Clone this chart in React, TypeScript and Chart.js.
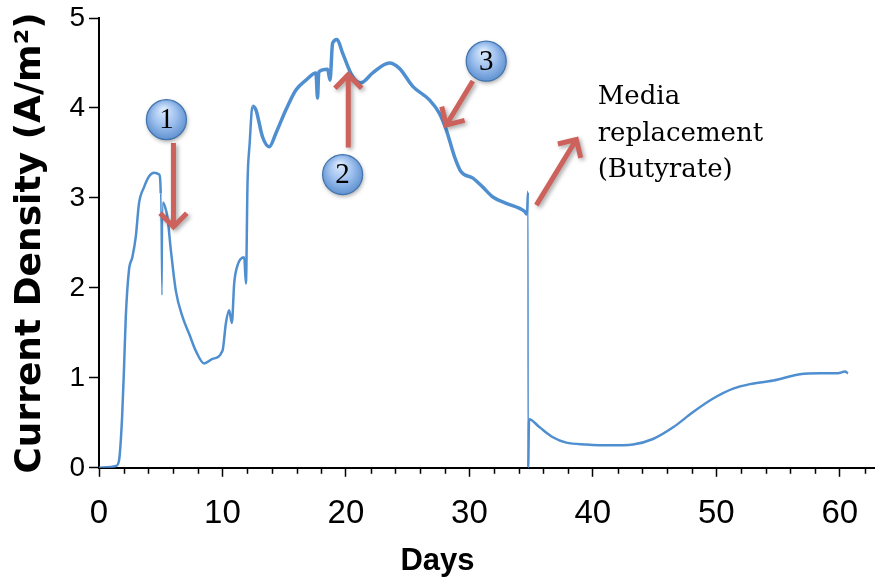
import React, { useEffect, useRef } from 'react';
import { Chart, registerables } from 'chart.js';

Chart.register(...registerables);

// ---- data ----
const days = [
  0, 0.97, 1.38, 1.62, 1.87, 2.03, 2.17, 2.43, 2.7, 2.98, 3.24, 3.65, 4.06, 4.46, 4.87,
  5.0, 5.1, 5.16, 5.35, 5.54, 5.82, 6.22, 6.76, 7.3, 7.84, 8.52, 9.19, 10.0, 10.28, 10.54,
  10.76, 10.95, 11.22, 11.76, 11.9, 12.03, 12.2, 12.43, 12.71, 13.24, 13.79, 14.33, 15.14,
  15.95, 16.76, 17.57, 17.7, 17.8, 18.52, 18.71, 18.92, 19.28, 19.73, 20.54, 21.22, 22.17,
  23.52, 24.33, 25.41, 26.76, 27.57, 28.12, 28.79, 29.33, 30.28, 31.09, 31.9, 32.98, 34.47,
  34.67, 34.74, 34.76, 34.83, 35.69, 36.76, 37.85, 39.47, 41.36, 43.25, 44.87, 46.5, 48.12,
  49.74, 51.36, 52.72, 54.61, 56.77, 58.39, 59.85, 60.42, 60.66,
];
const currentDensity = [
  0, 0.01, 0.02, 0.08, 0.56, 1.12, 1.68, 2.2, 2.34, 2.57, 2.94, 3.12, 3.24, 3.28, 3.26,
  3.05, 1.92, 2.95, 2.9, 2.79, 2.42, 1.97, 1.68, 1.49, 1.3, 1.16, 1.21, 1.3, 1.61, 1.75,
  1.61, 2.05, 2.25, 2.34, 2.05, 3.17, 3.6, 4.02, 3.98, 3.68, 3.57, 3.72, 3.98,
  4.2, 4.31, 4.39, 4.11, 4.4, 4.43, 4.31, 4.72, 4.76, 4.61, 4.35, 4.28, 4.39,
  4.5, 4.44, 4.24, 4.09, 3.94, 3.76, 3.46, 3.29, 3.22, 3.12, 3.01, 2.94, 2.85,
  2.82, 3.07, 0.0, 0.54, 0.45, 0.34, 0.28, 0.26, 0.25, 0.26, 0.32, 0.45, 0.62,
  0.77, 0.88, 0.93, 0.97, 1.04, 1.05, 1.05, 1.07, 1.05,
];

const xMin = 0;
const xMax = 62.85;
const xTickStep = 2;
const xLabelEvery = 10;
const yMin = 0;
const yMax = 5;
const yTickStep = 1;

const xAxisTitle = 'Days';
const yAxisTitle = 'Current Density (A/m²)';

// numbered markers (data coordinates)
const markerLabels = ['1', '2', '3'];
const markerDays = [5.46, 19.73, 31.36];
const markerValues = [3.87, 3.26, 4.52];

// arrows (data coordinates): from -> tip
const arrowFromDays = [6.03, 20.19, 30.28, 35.42];
const arrowFromValues = [3.61, 3.56, 4.3, 2.92];
const arrowToDays = [6.03, 20.19, 28.12, 38.66];
const arrowToValues = [2.68, 4.37, 3.81, 3.65];

// note text
const noteLines = ['Media', 'replacement', '(Butyrate)'];
const noteDay = 40.39;
const noteValues = [4.04, 3.63, 3.23];

const LINE_COLOR = '#4f8fd0';
const ARROW_COLOR = '#cd615b';

const annotationPlugin = {
  id: 'annotations',
  afterDatasetsDraw(chart: any) {
    const { ctx } = chart;
    const xs = chart.scales.x;
    const ys = chart.scales.y;

    // minor x ticks
    ctx.save();
    ctx.strokeStyle = '#000';
    ctx.lineWidth = 1.5;
    xs.ticks.forEach((t: any) => {
      if (t.value % xLabelEvery !== 0) {
        const px = Math.round(xs.getPixelForValue(t.value)) + 0.5;
        ctx.beginPath();
        ctx.moveTo(px, chart.chartArea.bottom);
        ctx.lineTo(px, chart.chartArea.bottom + 6);
        ctx.stroke();
      }
    });
    ctx.restore();

    // arrows
    for (let i = 0; i < arrowFromDays.length; i++) {
      const x0 = xs.getPixelForValue(arrowFromDays[i]);
      const y0 = ys.getPixelForValue(arrowFromValues[i]);
      const x1 = xs.getPixelForValue(arrowToDays[i]);
      const y1 = ys.getPixelForValue(arrowToValues[i]);
      const ang = Math.atan2(y1 - y0, x1 - x0);
      const headLen = 19;
      const spread = 0.78;
      ctx.save();
      ctx.shadowColor = 'rgba(0,0,0,0.35)';
      ctx.shadowBlur = 4;
      ctx.shadowOffsetX = 2;
      ctx.shadowOffsetY = 2;
      ctx.strokeStyle = ARROW_COLOR;
      ctx.lineWidth = 5;
      ctx.lineCap = 'butt';
      ctx.lineJoin = 'miter';
      ctx.beginPath();
      ctx.moveTo(x0, y0);
      ctx.lineTo(x1 - Math.cos(ang) * 3, y1 - Math.sin(ang) * 3);
      ctx.moveTo(x1 - Math.cos(ang - spread) * headLen, y1 - Math.sin(ang - spread) * headLen);
      ctx.lineTo(x1, y1);
      ctx.lineTo(x1 - Math.cos(ang + spread) * headLen, y1 - Math.sin(ang + spread) * headLen);
      ctx.stroke();
      ctx.restore();
    }

    // numbered circles
    for (let i = 0; i < markerLabels.length; i++) {
      const cx = xs.getPixelForValue(markerDays[i]);
      const cy = ys.getPixelForValue(markerValues[i]);
      const r = 20;
      ctx.save();
      ctx.shadowColor = 'rgba(0,0,0,0.35)';
      ctx.shadowBlur = 4;
      ctx.shadowOffsetX = 1;
      ctx.shadowOffsetY = 2;
      const g = ctx.createRadialGradient(cx - 3, cy - 10, 2, cx, cy, r + 4);
      g.addColorStop(0, '#d6e6fb');
      g.addColorStop(0.45, '#9ec0ee');
      g.addColorStop(1, '#4f85c9');
      ctx.fillStyle = g;
      ctx.beginPath();
      ctx.arc(cx, cy, r, 0, Math.PI * 2);
      ctx.fill();
      ctx.shadowColor = 'transparent';
      ctx.strokeStyle = '#4174ad';
      ctx.lineWidth = 1.2;
      ctx.stroke();
      ctx.fillStyle = '#000';
      ctx.font = '29px "Liberation Serif", serif';
      ctx.textAlign = 'center';
      ctx.textBaseline = 'middle';
      ctx.fillText(markerLabels[i], cx, cy + 1);
      ctx.restore();
    }

    // note text
    ctx.save();
    ctx.fillStyle = '#000';
    ctx.font = '26px "DejaVu Serif", serif';
    ctx.textAlign = 'left';
    ctx.textBaseline = 'alphabetic';
    const nx = xs.getPixelForValue(noteDay);
    noteLines.forEach((line, i) => {
      ctx.fillText(line, nx, ys.getPixelForValue(noteValues[i]));
    });
    ctx.restore();
  },
};

export default function App() {
  const canvasRef = useRef<HTMLCanvasElement | null>(null);

  useEffect(() => {
    const canvas = canvasRef.current;
    if (!canvas) return;
    const points = days.map((d, i) => ({ x: d, y: currentDensity[i] }));
    const chart = new Chart(canvas, {
      type: 'line',
      data: {
        datasets: [
          {
            data: points,
            borderColor: LINE_COLOR,
            backgroundColor: LINE_COLOR,
            borderWidth: 2.5,
            pointRadius: 0,
            cubicInterpolationMode: 'monotone',
            segment: {
              borderWidth: (c: any) => {
                const x0 = c.p0.parsed.x;
                const x1 = c.p1.parsed.x;
                if (x1 - x0 < 0.1 && Math.abs(c.p1.parsed.y - c.p0.parsed.y) > 1) return 1.5;
                if (x0 >= 12.4 && x1 <= 34.7) return 3.5;
                return 2.5;
              },
            },
          },
        ],
      },
      options: {
        responsive: false,
        animation: false,
        layout: { padding: { top: 18, right: 0, left: 0, bottom: 0 } },
        plugins: {
          legend: { display: false },
          tooltip: { enabled: false },
          title: {
            display: true,
            text: xAxisTitle,
            position: 'bottom',
            color: '#000',
            font: { family: '"Liberation Sans", Arial, sans-serif', size: 31, weight: 'bold', lineHeight: 1.2 },
            padding: { top: 0, bottom: 1 },
          },
        },
        scales: {
          x: {
            type: 'linear',
            min: xMin,
            max: xMax,
            afterFit: (s: any) => {
              s.height = 75;
              s.paddingRight = 0;
              s.paddingLeft = 0;
            },
            border: { display: true, color: '#000', width: 2 },
            grid: {
              display: true,
              drawOnChartArea: false,
              tickLength: 9,
              tickWidth: 1.5,
              tickColor: (c: any) => (c.tick && c.tick.value % xLabelEvery === 0 ? '#000' : 'rgba(0,0,0,0)'),
            },
            ticks: {
              stepSize: xTickStep,
              includeBounds: false,
              autoSkip: false,
              maxRotation: 0,
              color: '#000',
              padding: 17,
              font: { family: '"Liberation Sans", Arial, sans-serif', size: 33 },
              callback: (v: any) => (Number(v) % xLabelEvery === 0 ? String(v) : ''),
            },
          },
          y: {
            type: 'linear',
            min: yMin,
            max: yMax,
            afterFit: (s: any) => {
              s.width = 99;
            },
            border: { display: true, color: '#000', width: 2 },
            grid: {
              display: true,
              drawOnChartArea: false,
              tickLength: 10,
              tickWidth: 1.5,
              tickColor: '#000',
            },
            ticks: {
              stepSize: yTickStep,
              color: '#000',
              padding: 4,
              font: { family: '"Liberation Sans", Arial, sans-serif', size: 28, lineHeight: 1 },
            },
            title: {
              display: true,
              text: yAxisTitle,
              color: '#000',
              padding: { top: 9, bottom: 0 },
              font: { family: '"DejaVu Sans", sans-serif', size: 36, weight: 'bold', lineHeight: 1.2 },
            },
          },
        },
      },
      plugins: [annotationPlugin],
    } as any);
    return () => chart.destroy();
  }, []);

  return (
    <div style={{ position: 'fixed', left: 0, top: 0, width: 875, height: 581, background: '#fff' }}>
      <canvas ref={canvasRef} width={875} height={581} style={{ display: 'block' }} />
    </div>
  );
}
